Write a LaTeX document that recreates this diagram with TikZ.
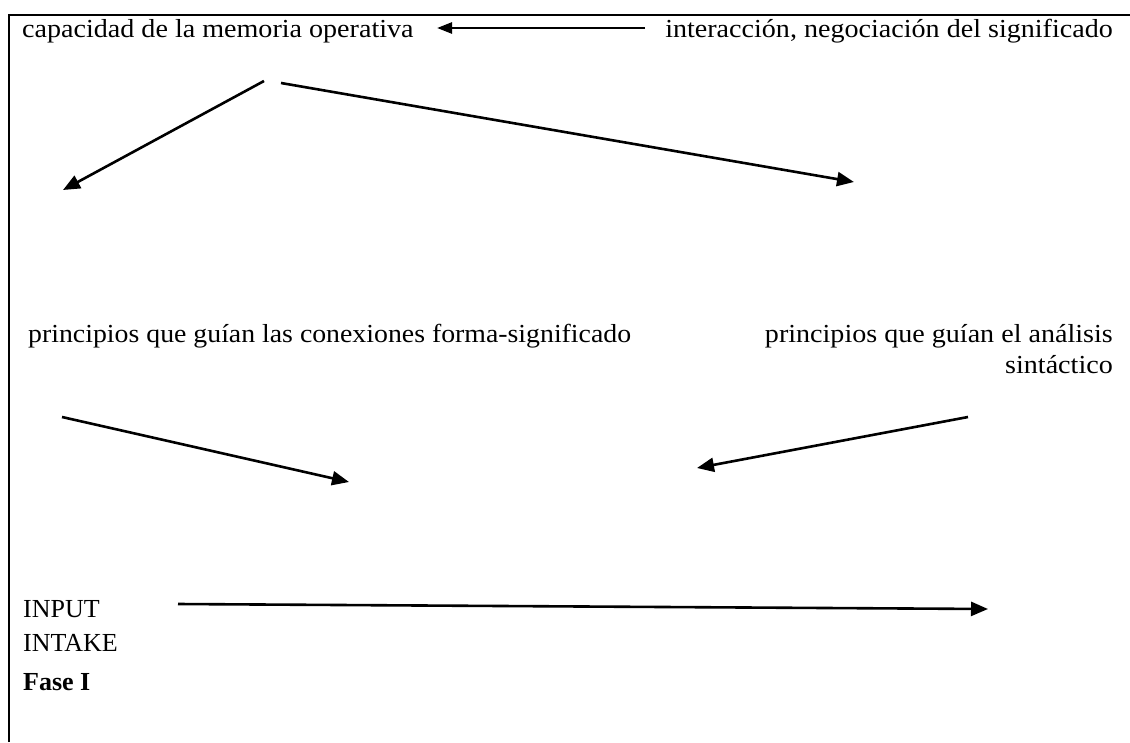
\documentclass[tikz,border=0pt]{standalone}
\usepackage{fontspec}
\setmainfont{Liberation Serif}
\usetikzlibrary{arrows.meta}
\begin{document}
\begin{tikzpicture}[x=1pt,y=-1pt,
  txt/.style={inner sep=0pt, font=\fontsize{26}{30}\selectfont},
  wide/.style={txt, xscale=1.08, transform shape},
  arr/.style={line width=2.6pt, -{Triangle[length=17pt,width=14pt]}},
  smallarr/.style={line width=2.6pt, -{Triangle[length=15pt,width=11pt]}},
  frame/.style={line width=2.6pt}]
\useasboundingbox (0,0) rectangle (1130,742);
% frame
\draw[frame] (9,742) -- (9,15) -- (1130,15);
% texts
\node[wide, anchor=base west] (cap) at (22,37) {capacidad de la memoria operativa};
\node[wide, anchor=base east] (inter) at (1113,37) {interacción, negociación del significado};
\node[wide, anchor=base west, xscale=0.99] (pcf) at (28,342) {principios que guían las conexiones forma-significado};
\node[wide, anchor=base east] (pas) at (1113,342) {principios que guían el análisis};
\node[wide, anchor=base east] (sint) at (1113,373) {sintáctico};
\node[txt, anchor=base west] (input) at (23,617) {INPUT};
\node[txt, anchor=base west] (intake) at (23,651) {INTAKE};
\node[txt, anchor=base west, font=\fontsize{26}{30}\selectfont\bfseries] (fase) at (23,690) {Fase I};
% arrow end points
\coordinate (a1s) at (645,28);
\coordinate (a1e) at (437,28);
\coordinate (a2s) at (264,81);
\coordinate (a2e) at (63,190);
\coordinate (a3s) at (281,83);
\coordinate (a3e) at (854,182);
\coordinate (a4s) at (62,417);
\coordinate (a4e) at (349,482);
\coordinate (a5s) at (968,417);
\coordinate (a5e) at (697,468);
\coordinate (a6s) at (178,604);
\coordinate (a6e) at (988,609);
% arrows
\draw[smallarr] (a1s) -- (a1e);
\draw[arr] (a2s) -- (a2e);
\draw[arr] (a3s) -- (a3e);
\draw[arr] (a4s) -- (a4e);
\draw[arr] (a5s) -- (a5e);
\draw[arr] (a6s) -- (a6e);
\end{tikzpicture}
\end{document}
